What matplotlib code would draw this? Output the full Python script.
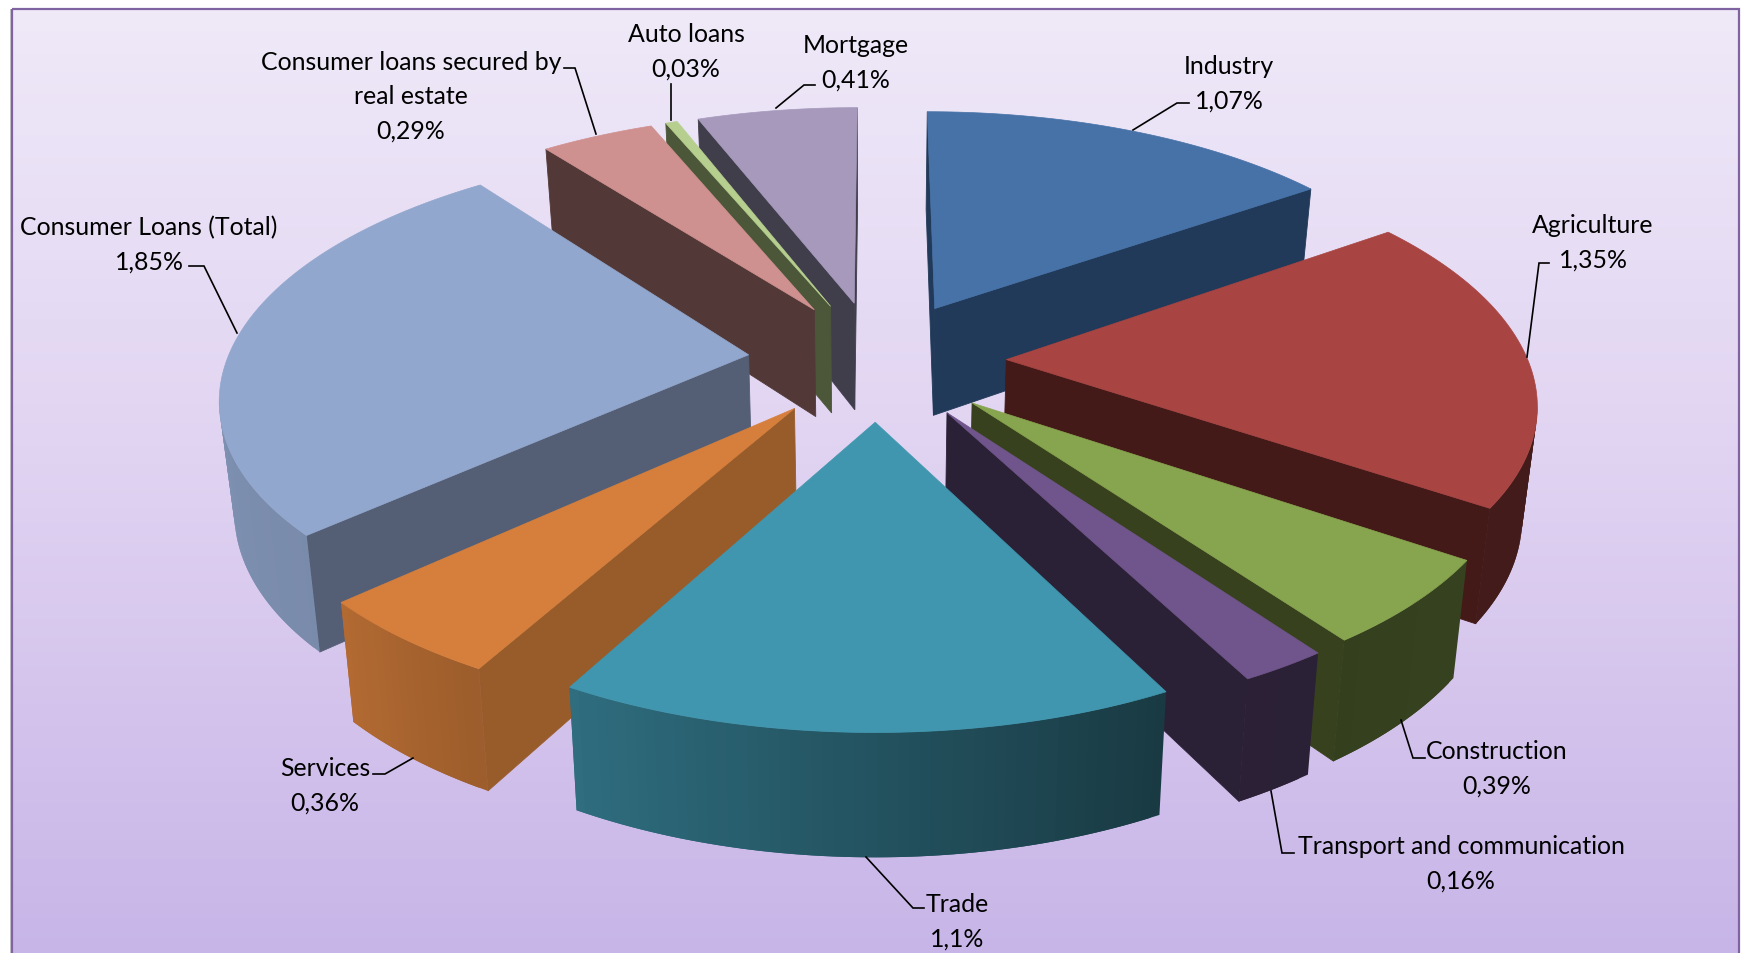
import numpy as np
import matplotlib
matplotlib.use("Agg")
import matplotlib.pyplot as plt
from matplotlib.colors import to_rgb, LinearSegmentedColormap
from matplotlib.patches import Polygon, Rectangle

plt.rcParams['font.family'] = ['Lato', 'DejaVu Sans']

names = ["Industry", "Agriculture", "Construction", "Transport and communication", "Trade",
         "Services", "Consumer Loans (Total)", "Consumer loans secured by\nreal estate", "Auto loans", "Mortgage"]
values = [1.07, 1.35, 0.39, 0.16, 1.1, 0.36, 1.85, 0.29, 0.03, 0.41]
value_labels = ["1,07%", "1,35%", "0,39%", "0,16%", "1,1%", "0,36%", "1,85%", "0,29%", "0,03%", "0,41%"]

top_colors = ["#4672A7", "#A84442", "#87A44E", "#70558C", "#4096AE",
              "#D67F3C", "#92A7CD", "#CF918F", "#B6CF8E", "#A699BC"]
wall_colors = ["#223A59", "#431A18", "#37411D", "#2B2137", "#1B4450",
               "#985C2B", "#545F75", "#523938", "#4C5639", "#413E4C"]

# label centre (first line), leader line, all in pixels of the picture
label_xy = [(1229, 55), (1593, 214), (1497, 740), (1461, 835), (957, 893),
            (325, 757), (149, 216), (411, 51), (686, 23), (856, 34)]
leaders = [[(1133, 131), (1177, 104), (1189, 104)],
           [(1527, 358), (1539, 264), (1549, 264)],
           [(1401, 721), (1413, 759), (1425, 759)],
           [(1271, 792), (1282, 854), (1294, 854)],
           [(866, 858), (913, 909), (924, 909)],
           [(413, 759), (385, 775), (373, 775)],
           [(237, 334), (204, 267), (189, 267)],
           [(596, 135), (575, 69), (564, 69)],
           [(671, 121), (671, 85)],
           [(776, 109), (804, 86), (815, 86)]]

cx, cy = 877, 361
sx, sy = 521.5, 241.5
k = 0.153
explode = 0.248
height = 109
view = np.array([0, 1 / k])


def project(x, y, bottom=False):
    w = 1 - k * y
    px = sx * x / w
    py = cy + sy * y / w
    if bottom:
        px = px * 0.977
        py = py + height * w ** -0.64
    return cx + px, py


def shade(theta):
    return np.interp(np.degrees(theta) % 360, [90, 124, 152, 180, 209, 227, 270, 360],
                     [0.4, 0.4, 0.38, 0.55, 0.73, 0.83, 0.88, 0.88])


fig = plt.figure(figsize=(17.45, 9.54), dpi=100, facecolor="white")
ax = fig.add_axes([0, 0, 1, 1])
ax.axis("off")

# background
bg = LinearSegmentedColormap.from_list("bg", [(0, "#EFE9F8"), (0.46, "#E1D4F2"), (0.8, "#D1C0EB"), (1, "#C7B5E8")])
ax.imshow(np.linspace(0, 1, 256).reshape(-1, 1), cmap=bg, aspect="auto", extent=(13, 1740, 956, 10), zorder=0)
ax.set_xlim(0, 1745)
ax.set_ylim(954, 0)
ax.add_patch(Rectangle((10, 10), 2, 946, color="#C9C9C9", lw=0, zorder=0.5))
ax.add_patch(Rectangle((12.5, 9.5), 1727, 950, fill=False, ec="#8064A2", lw=1.6, zorder=1))

edges = np.cumsum([0] + values) / np.sum(values) * 2 * np.pi
order = sorted(range(len(values)), key=lambda i: -np.cos((edges[i] + edges[i + 1]) / 2))

for rank, i in enumerate(order):
    z = 2 + rank
    t0, t1 = edges[i], edges[i + 1]
    mid = (t0 + t1) / 2
    ox, oy = explode * np.sin(mid), -explode * np.cos(mid)
    ts = np.linspace(t0, t1, max(int((t1 - t0) * 60), 4))
    rx, ry = ox + np.sin(ts), oy - np.cos(ts)
    apex = np.array([ox, oy])

    # cut faces
    for t, sign in ((t0, -1), (t1, 1)):
        normal = sign * np.array([np.cos(t), np.sin(t)])
        rim = apex + np.array([np.sin(t), -np.cos(t)])
        if normal @ (view - apex) > 0:
            pts = [project(*apex), project(*rim), project(*rim, True), project(*apex, True)]
            ax.add_patch(Polygon(pts, fc=wall_colors[i], ec=wall_colors[i], lw=0.6, zorder=z))

    # outer wall, in strips for the shading
    base = np.array(to_rgb(top_colors[i]))
    for j in range(len(ts) - 1):
        tm = (ts[j] + ts[j + 1]) / 2
        r = np.array([np.sin(tm), -np.cos(tm)])
        if r @ (view - apex - r) > 0:
            # each strip runs into the next one so no seam shows
            e = min(j + 2, len(ts) - 1)
            pts = [project(rx[j], ry[j]), project(rx[e], ry[e]),
                   project(rx[e], ry[e], True), project(rx[j], ry[j], True)]
            col = base * shade(tm)
            ax.add_patch(Polygon(pts, fc=col, ec="none", zorder=z + 0.1 + j * 0.001))

    # top
    pts = [project(*apex)] + [project(a, b) for a, b in zip(rx, ry)]
    ax.add_patch(Polygon(pts, fc=top_colors[i], ec=top_colors[i], lw=0.5, zorder=z + 0.2))

for name, val, xy, line in zip(names, value_labels, label_xy, leaders):
    ax.text(xy[0], xy[1], name + "\n" + val, ha="center", va="top", fontsize=17.9,
            color="black", linespacing=1.6, zorder=50, multialignment="center")
    ax.plot([p[0] for p in line], [p[1] for p in line], color="black", lw=1.2, zorder=49,
            solid_joinstyle="miter")

fig.savefig("out.png", dpi=100)
